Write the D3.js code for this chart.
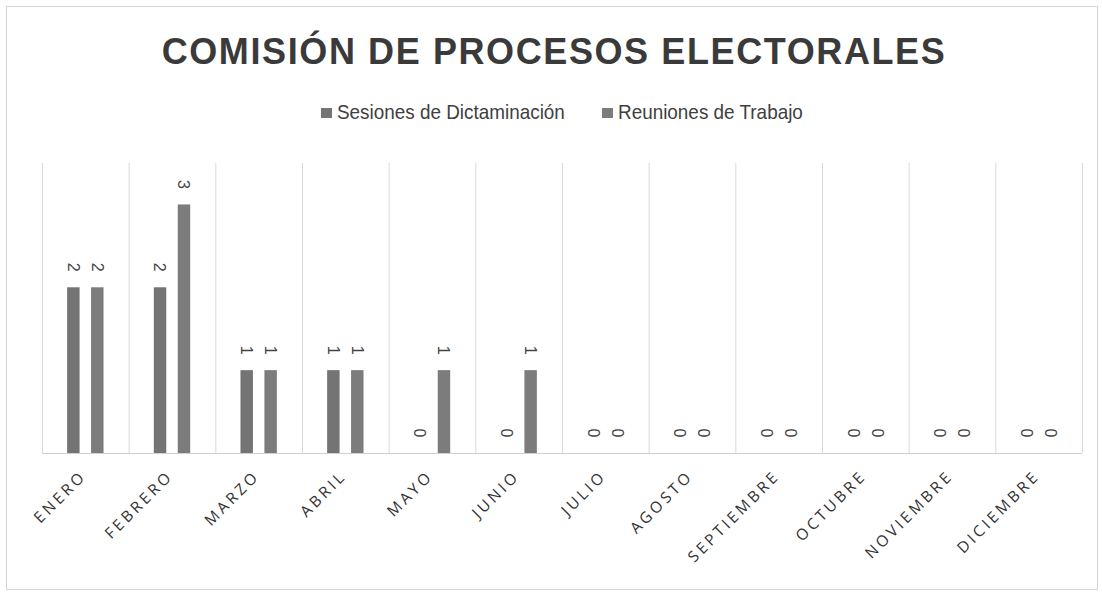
<!DOCTYPE html>
<html lang="es">
<head>
<meta charset="UTF-8">
<title>Comisión de Procesos Electorales</title>
<script src="https://d3js.org/d3.v7.min.js"></script>
<style>
  body { margin: 0; background: #fff; }
</style>
</head>
<body>
<script>
// datos
var meses = ["ENERO", "FEBRERO", "MARZO", "ABRIL", "MAYO", "JUNIO", "JULIO", "AGOSTO",
             "SEPTIEMBRE", "OCTUBRE", "NOVIEMBRE", "DICIEMBRE"];
var series = ["Sesiones de Dictaminación", "Reuniones de Trabajo"];
var sesiones = [2, 2, 1, 1, 0, 0, 0, 0, 0, 0, 0, 0];
var reuniones = [2, 3, 1, 1, 1, 1, 0, 0, 0, 0, 0, 0];
var colores = ["#747474", "#7c7c7c"];

var width = 1102, height = 594;
var margin = { top: 163, right: 20, bottom: 141, left: 42 };

var svg = d3.select("body").append("svg")
    .attr("width", width)
    .attr("height", height);

// marco exterior
svg.append("rect")
    .attr("x", 6.5).attr("y", 6.5)
    .attr("width", 1091).attr("height", 583)
    .attr("fill", "none")
    .attr("stroke", "#d6d6d6");

var x = d3.scaleBand()
    .domain(meses)
    .range([margin.left, 1082]);

var x1 = d3.scaleBand()
    .domain(series)
    .range([0, x.bandwidth()])
    .paddingInner(0.48)
    .paddingOuter(1.05);

var y = d3.scaleLinear()
    .domain([0, 3.5])
    .range([height - margin.bottom, margin.top]);

// líneas verticales
svg.append("g")
    .selectAll("line")
    .data(meses.concat(["_fin"]))
    .join("line")
    .attr("x1", function (d, i) { return margin.left + i * x.bandwidth() + 0.5; })
    .attr("x2", function (d, i) { return margin.left + i * x.bandwidth() + 0.5; })
    .attr("y1", y(3.5))
    .attr("y2", y(0))
    .attr("stroke", "#d9d9d9");

// eje x
svg.append("line")
    .attr("x1", margin.left).attr("x2", 1082)
    .attr("y1", y(0) + 0.5).attr("y2", y(0) + 0.5)
    .attr("stroke", "#d0d0d0");

var datos = meses.map(function (m, i) {
    return { mes: m, valores: [sesiones[i], reuniones[i]] };
});

var grupos = svg.append("g")
    .selectAll("g")
    .data(datos)
    .join("g")
    .attr("transform", function (d) { return "translate(" + x(d.mes) + ",0)"; });

grupos.selectAll("rect")
    .data(function (d) { return d.valores.map(function (v, j) { return { s: series[j], v: v, j: j }; }); })
    .join("rect")
    .attr("x", function (d) { return x1(d.s); })
    .attr("y", function (d) { return y(d.v); })
    .attr("width", x1.bandwidth())
    .attr("height", function (d) { return y(0) - y(d.v); })
    .attr("fill", function (d) { return colores[d.j]; });

// etiquetas de valores (rotadas)
grupos.selectAll("text")
    .data(function (d) { return d.valores.map(function (v, j) { return { s: series[j], v: v }; }); })
    .join("text")
    .attr("transform", function (d) {
        return "translate(" + (x1(d.s) + x1.bandwidth() / 2) + "," + (y(d.v) - 20) + ") rotate(90)";
    })
    .attr("text-anchor", "middle")
    .attr("dy", "0.35em")
    .style("font-family", "'Liberation Sans', Arial, sans-serif")
    .style("font-size", "16px")
    .style("fill", "#444")
    .text(function (d) { return d.v; });

// etiquetas de meses
svg.append("g")
    .selectAll("text")
    .data(meses)
    .join("text")
    .attr("transform", function (d) {
        return "translate(" + (x(d) + x.bandwidth() / 2 + 2) + "," + (y(0) + 24) + ") rotate(-45)";
    })
    .attr("text-anchor", "end")
    .style("font-family", "'Open Sans', sans-serif")
    .style("font-size", "15.5px")
    .style("letter-spacing", "3.2px")
    .style("fill", "#333")
    .text(function (d) { return d; });

// título
svg.append("text")
    .attr("x", 554)
    .attr("y", 64)
    .attr("text-anchor", "middle")
    .style("font-family", "'Liberation Sans', Arial, sans-serif")
    .style("font-weight", "bold")
    .style("font-size", "36px")
    .style("letter-spacing", "1.6px")
    .style("fill", "#3a3a3a")
    .text("COMISIÓN DE PROCESOS ELECTORALES");

// leyenda
var leyendaX = [321, 602];
var leyenda = svg.append("g")
    .selectAll("g")
    .data(series)
    .join("g")
    .attr("transform", function (d, i) { return "translate(" + leyendaX[i] + ",119)"; });

leyenda.append("rect")
    .attr("x", 0).attr("y", -11)
    .attr("width", 11).attr("height", 10)
    .attr("fill", function (d, i) { return colores[i]; });

leyenda.append("text")
    .attr("transform", "translate(16,0) scale(0.9,1)")
    .style("font-family", "'Liberation Sans', Arial, sans-serif")
    .style("font-size", "21px")
    .style("fill", "#404040")
    .text(function (d) { return d; });
</script>
</body>
</html>
